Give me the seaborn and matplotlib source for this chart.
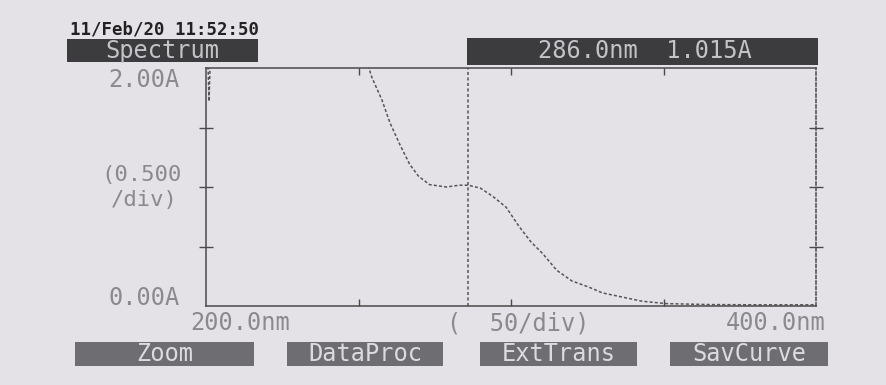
import matplotlib
matplotlib.use("Agg")
import matplotlib.pyplot as plt
import seaborn as sns
import pandas as pd
from matplotlib.patches import Rectangle

# spectrum (values above 2.00A are off scale)
wavelength = [200, 201, 202, 230, 253.4, 254.4, 257.7, 260.3, 263.5, 266.8, 269.7,
              273.3, 278.8, 283.0, 286.0, 290.0, 294.1, 298.4, 302.6, 306.5, 310.4,
              315.0, 320.0, 325.4, 330.0, 336.5, 343.0, 351.0, 365.0, 380.0, 400.0]
absorbance = [2.6, 1.72, 2.6, 3.0, 2.0, 1.92, 1.73, 1.54, 1.36, 1.19, 1.09,
              1.02, 1.00, 1.015, 1.015, 0.99, 0.92, 0.83, 0.67, 0.54, 0.44,
              0.30, 0.21, 0.16, 0.11, 0.075, 0.04, 0.02, 0.012, 0.01, 0.01]

cursor_nm = 286.0
cursor_abs = 1.015
date_text = "11/Feb/20 11:52:50"
title_text = "Spectrum"
buttons = ["Zoom", "DataProc", "ExtTrans", "SavCurve"]
y_ticks = [0.5, 1.0, 1.5]
x_ticks = [250, 300, 350]

W, H = 886, 385
PAPER = "#e4e2e7"
INK = "#4a4a4a"
FAINT = "#8a8a8e"
MONO = ["DejaVu Sans Mono"]


def fx(x):
    return x / W


def fy(y):
    return 1 - y / H


def box(fig, x0, y0, x1, y1, color):
    fig.patches.append(Rectangle((fx(x0), fy(y1)), fx(x1 - x0), (y1 - y0) / H,
                                 transform=fig.transFigure, facecolor=color,
                                 edgecolor="none", zorder=0))


def main():
    sns.set_style("white")
    plt.rcParams["font.family"] = MONO

    df = pd.DataFrame({"nm": wavelength, "A": absorbance})

    fig = plt.figure(figsize=(W / 100, H / 100), dpi=100, facecolor=PAPER)
    ax = fig.add_axes([fx(206), fy(306), fx(816 - 206), (306 - 68) / H])
    ax.set_facecolor(PAPER)

    sns.lineplot(data=df, x="nm", y="A", ax=ax, color="#555555",
                 linewidth=1.1, linestyle=(0, (2, 1.4)))
    ax.axvline(cursor_nm, color="#555555", linewidth=1.1, linestyle=(0, (2, 1.6)))

    ax.set_xlim(200, 400)
    ax.set_ylim(0, 2.0)
    ax.set_xlabel("")
    ax.set_ylabel("")
    ax.set_xticks(x_ticks)
    ax.set_yticks(y_ticks)
    ax.tick_params(axis="y", direction="inout", length=10, width=1, color=INK,
                   left=True, right=True, labelleft=False)
    ax.tick_params(axis="x", direction="in", length=5, width=1, color=INK,
                   bottom=True, top=True, labelbottom=False)
    for side in ["left", "top", "bottom", "right"]:
        ax.spines[side].set_color(INK)
        ax.spines[side].set_linewidth(1.1)
    ax.spines["right"].set_linestyle((0, (2, 1.6)))

    # header
    fig.text(fx(70), fy(29), date_text, fontsize=12.5, fontweight="bold",
             color="#222222", va="center", ha="left", family=MONO)
    box(fig, 67, 39, 258, 62, "#3c3c3e")
    fig.text(fx(162), fy(51), title_text, fontsize=17, color="#c4c4c8",
             ha="center", va="center", family=MONO)
    box(fig, 467, 38, 818, 65, "#3c3c3e")
    fig.text(fx(645), fy(51.5), f"{cursor_nm:.1f}nm  {cursor_abs:.3f}A",
             fontsize=17, color="#c4c4c8", ha="center", va="center", family=MONO)

    # axis annotations
    fig.text(fx(180), fy(80), "2.00A", fontsize=17, color=FAINT,
             ha="right", va="center", family=MONO)
    fig.text(fx(182), fy(175), "(0.500", fontsize=16, color=FAINT,
             ha="right", va="center", family=MONO)
    fig.text(fx(178), fy(200), "/div)", fontsize=16, color=FAINT,
             ha="right", va="center", family=MONO)
    fig.text(fx(180), fy(298), "0.00A", fontsize=17, color=FAINT,
             ha="right", va="center", family=MONO)
    fig.text(fx(190), fy(323), "200.0nm", fontsize=17, color=FAINT,
             ha="left", va="center", family=MONO)
    fig.text(fx(518), fy(323), "(  50/div)", fontsize=17, color=FAINT,
             ha="center", va="center", family=MONO)
    fig.text(fx(826), fy(323), "400.0nm", fontsize=17, color=FAINT,
             ha="right", va="center", family=MONO)

    # soft-key buttons
    spans = [(75, 254), (287, 443), (480, 637), (670, 828)]
    for label, (x0, x1) in zip(buttons, spans):
        box(fig, x0, 342, x1, 366, "#6e6e72")
        fig.text(fx((x0 + x1) / 2), fy(354), label, fontsize=17,
                 color="#dcdce0", ha="center", va="center", family=MONO)

    fig.savefig("out.png", dpi=100, facecolor=PAPER)


if __name__ == "__main__":
    main()
